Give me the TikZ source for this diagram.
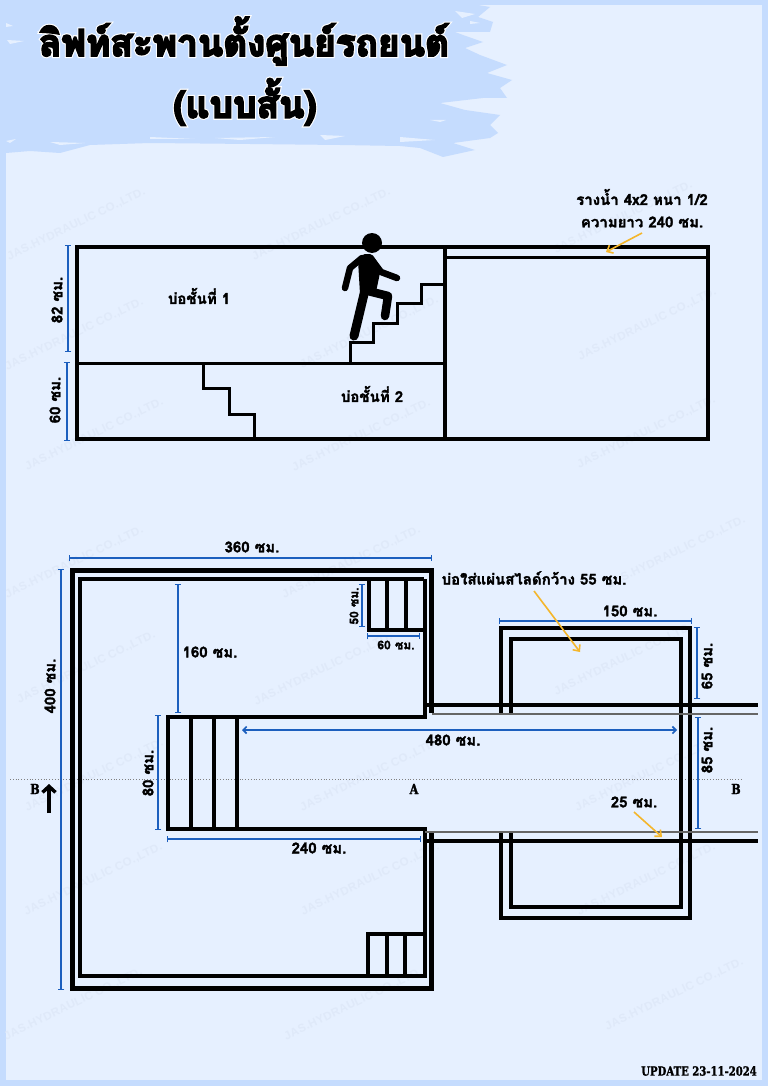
\documentclass[tikz,border=0pt]{standalone}
\usepackage{fontspec}
\usetikzlibrary{arrows.meta}
\newfontfamily\thaib[Script=Thai,FakeBold=2]{Loma Bold}
\newfontfamily\thaititle[Script=Thai,FakeBold=5]{Loma Bold}
\newfontfamily\thaihalo[Script=Thai,FakeBold=11]{Loma Bold}
\newfontfamily\slab[FakeStretch=0.8,FakeBold=1.5]{DejaVu Serif Bold}
\newfontfamily\wm[LetterSpace=3]{Liberation Sans Bold}
\definecolor{outerbg}{HTML}{C5DCFE}
\definecolor{innerbg}{HTML}{E6F0FF}
\definecolor{wmark}{HTML}{DFE9F9}
\definecolor{dimblue}{HTML}{1C5FBE}
\definecolor{orangearrow}{HTML}{F4B62C}
\definecolor{grayline}{HTML}{666666}
\tikzset{
  wall/.style={draw=black,line width=4pt,line cap=butt,line join=miter},
  thin wall/.style={draw=black,line width=3pt,line cap=butt,line join=miter},
  grayrail/.style={draw=grayline,line width=2.6pt},
  dimline/.style={draw=dimblue,line width=1.6pt,{Bar[width=6.5pt,line width=1.4pt]}-{Bar[width=6.5pt,line width=1.4pt]}},
  dimarrow/.style={draw=dimblue,line width=1.6pt,{Straight Barb[length=3.5pt,width=7pt]}-{Straight Barb[length=3.5pt,width=7pt]}},
  callout/.style={draw=orangearrow,line width=1.6pt,-{Straight Barb[length=5pt,width=9pt]}},
  label/.style={font=\thaib\fontsize{15}{17}\selectfont,inner sep=0pt,text=black},
  smalllabel/.style={font=\thaib\fontsize{12}{14}\selectfont,inner sep=0pt,text=black},
  slablabel/.style={font=\slab\fontsize{14}{16}\selectfont,inner sep=0pt,text=black},
  watermark/.style={font=\wm\fontsize{11.5}{13}\selectfont,text=wmark,rotate=25.8,anchor=south west,inner sep=0pt},
  limb/.style={draw=black,line cap=round,line join=round},
}
\begin{document}
\begin{tikzpicture}[x=1pt,y=-1pt]
\useasboundingbox (0,0) rectangle (768,1086);
% backgrounds
\fill[outerbg] (0,0) rectangle (768,1086);
\fill[innerbg] (6,5) rectangle (762,1080);
% brushed title band
\fill[outerbg] (0,0) -- (478,5) -- (490,7) -- (478,17) -- (493,22) -- (490,32) -- (455,32) -- (463,35) -- (483,42) -- (465,48) -- (480,55) -- (507,65) -- (487,73) -- (512,80) -- (500,88) -- (507,98) -- (483,98) -- (440,103) -- (465,110) -- (500,115) -- (490,125) -- (498,133) -- (490,138) -- (453,143) -- (475,150) -- (443,157) -- (420,148) -- (400,146) -- (340,145) -- (250,144) -- (150,143) -- (90,145) -- (60,153) -- (30,151) -- (6,153) -- (0,153) -- cycle;
\fill[innerbg] (470,21) -- (480,23) -- (470,24) -- cycle;
\fill[innerbg] (455,11) -- (475,14) -- (462,18) -- cycle;
\fill[innerbg] (483,52) -- (497,50) -- (490,53) -- cycle;
\fill[innerbg] (497,60) -- (516,57) -- (505,61) -- cycle;
\fill[innerbg] (430,120) -- (446,120) -- (440,122) -- cycle;
\fill[innerbg] (400,137) -- (435,140) -- (400,142) -- cycle;
\fill[innerbg] (150,137) -- (195,139) -- (150,139) -- cycle;
\fill[innerbg] (215,138) -- (275,137) -- (240,140) -- cycle;
\fill[innerbg] (320,135) -- (345,136) -- (325,140) -- cycle;
\fill[innerbg] (6,141) -- (16,139) -- (10,143) -- cycle;
\fill[innerbg] (50,142) -- (85,143) -- (60,145) -- cycle;
\fill[innerbg] (6,23) -- (13,26) -- (6,27) -- cycle;
\fill[innerbg] (7,40) -- (24,41) -- (10,44) -- cycle;
% watermarks
\foreach \wx/\wy in {10/262,255/262,557/255,8/372,303/370,581/362,28/472,295/473,580/470,8/600,285/600,610/590,20/705,257/707,557/697,28/813,303/813,578/813,27/917,304/917,580/917,7/1042,287/1042,608/1032}
  \node[watermark] at (\wx,\wy) {JAS.HYDRAULIC CO.,LTD.};
% title
\node[font=\thaihalo\fontsize{37}{44}\selectfont,text=white,inner sep=0pt] (titlehaloa) at (244,41) {ลิฟท์สะพานตั้งศูนย์รถยนต์};
\node[font=\thaihalo\fontsize{37}{44}\selectfont,text=white,inner sep=0pt] (titlehalob) at (245,102) {(แบบสั้น)};
\node[font=\thaititle\fontsize{37}{44}\selectfont,text=black,inner sep=0pt] (titlea) at (244,41) {ลิฟท์สะพานตั้งศูนย์รถยนต์};
\node[font=\thaititle\fontsize{37}{44}\selectfont,text=black,inner sep=0pt] (titleb) at (245,102) {(แบบสั้น)};
% side view
\draw[wall] (77,247) rectangle (708,439);
\draw[wall] (445,247) -- (445,439);
\draw[thin wall] (77,363) -- (445,363);
\draw[thin wall] (445,257) -- (708,257);
\draw[thin wall] (350,362) -- (350,342) -- (373,342) -- (373,323) -- (397,323) -- (397,303) -- (421,303) -- (421,284) -- (445,284);
\draw[thin wall] (203,363) -- (203,388) -- (229,388) -- (229,414) -- (254,414) -- (254,438);
% person
\fill[black] (372,243) circle (10);
\fill[black,rounded corners=2pt] (363,254) -- (372,254) -- (381,268) -- (376,292) -- (360,294) -- (358,260) -- cycle;
\draw[limb,line width=6.5pt] (362,258) -- (350,268) -- (345,288);
\draw[limb,line width=6.5pt] (372,260) -- (381,272) -- (397,278);
\draw[limb,line width=9pt] (365,290) -- (354,336);
\draw[limb,line width=8.5pt] (368,291) -- (388,296) -- (385,316);
% side view labels
\node[label] (pit1) at (199,296) {บ่อชั้นที่ 1};
\node[label] (pit2) at (372,394) {บ่อชั้นที่ 2};
\node[label] (gutter) at (642,197) {รางน้ำ 4x2 หนา 1/2};
\node[label] (gutterlen) at (642,222) {ความยาว 240 ซม.};
\coordinate (guttertip) at (606,252);
\coordinate (gutterfrom) at (642,233);
\draw[callout] (gutterfrom) -- (guttertip);
\draw[dimline] (68,245) -- (68,352);
\draw[dimline] (67,362) -- (67,441);
\node[label,rotate=90] (d82) at (57,300) {82 ซม.};
\node[label,rotate=90] (d60) at (55,400) {60 ซม.};
% plan: dotted section line
\draw[draw=gray,line width=.8pt,dotted] (10,779) -- (743,779);
% plan: outer wall
\draw[wall,line width=5pt] (431,713) -- (431,570) -- (72,570) -- (72,988) -- (431,988) -- (431,833);
% plan: inner wall
\draw[wall,line width=4.5pt] (424,579) -- (80,579) -- (80,976) -- (425,976) -- (425,829) -- (168,829) -- (168,717) -- (425,717) -- (425,579) ;
\draw[wall] (191,717) -- (191,829);
\draw[wall] (214,717) -- (214,829);
\draw[wall] (237,717) -- (237,829);
% plan: corner steps
\draw[thin wall,line width=3.5pt] (369,579) -- (369,630) -- (424,630);
\draw[thin wall,line width=3.5pt] (387,579) -- (387,630);
\draw[thin wall,line width=3.5pt] (406,579) -- (406,630);
\draw[thin wall,line width=3.5pt] (423,934) -- (368,934) -- (368,977);
\draw[thin wall,line width=3.5pt] (387,934) -- (387,977);
\draw[thin wall,line width=3.5pt] (405,934) -- (405,977);
% plan: right pit
\draw[wall] (501,714) -- (501,628) -- (690,628) -- (690,918) -- (501,918) -- (501,833);
\draw[wall] (511,714) -- (511,639) -- (681,639) -- (681,907) -- (511,907) -- (511,833);
% plan: rails
\draw[wall] (425,705) -- (758,705);
\draw[grayrail] (432,714) -- (758,714);
\draw[grayrail] (425,832) -- (758,832);
\draw[wall] (425,841) -- (758,841);
% plan: dimensions
\draw[dimline] (69,558) -- (432,558);
\node[label] (d360) at (252,547) {360 ซม.};
\draw[dimline] (61,569) -- (61,990);
\node[label,rotate=90] (d400) at (50,686) {400 ซม.};
\draw[dimline] (178,584) -- (178,713);
\node[label] (d160) at (210,652) {160 ซม.};
\draw[dimline] (158,715) -- (158,830);
\node[label,rotate=90] (d80) at (148,773) {80 ซม.};
\draw[dimline] (362,584) -- (362,627);
\node[smalllabel,rotate=90] (d50) at (354,606) {50 ซม.};
\draw[dimline] (367,636) -- (420,636);
\node[smalllabel] (d60b) at (396,645) {60 ซม.};
\draw[dimarrow] (242,730) -- (677,730);
\node[label] (d480) at (453,740) {480 ซม.};
\draw[dimline] (167,839) -- (421,839);
\node[label] (d240) at (319,848) {240 ซม.};
\draw[dimline] (499,621) -- (692,621);
\node[label] (d150) at (630,611) {150 ซม.};
\draw[dimline] (697,627) -- (697,699);
\node[label,rotate=90] (d65) at (707,666) {65 ซม.};
\draw[dimline] (698,717) -- (698,829);
\node[label,rotate=90] (d85) at (707,750) {85 ซม.};
% plan: callouts
\node[label] (slideslot) at (534,578) {บ่อใส่แผ่นสไลด์กว้าง 55 ซม.};
\coordinate (slidefrom) at (534,591);
\coordinate (slidetip) at (580,652);
\draw[callout] (slidefrom) -- (slidetip);
\node[label] (d25) at (634,802) {25 ซม.};
\coordinate (dfrom) at (634,812);
\coordinate (dtip) at (662,837);
\draw[callout] (dfrom) -- (dtip);
% section marks
\node[slablabel] (secA) at (414,789) {A};
\node[slablabel] (secBl) at (35,789) {B};
\node[slablabel] (secBr) at (736,789) {B};
\coordinate (upfrom) at (49,813);
\coordinate (upto) at (49,784);
\draw[draw=black,line width=3.5pt,-{Straight Barb[length=6pt,width=13pt]}] (upfrom) -- (upto);
\node[font=\slab\fontsize{12.6}{14}\selectfont,anchor=east,inner sep=0pt] (update) at (757,1071) {UPDATE 23-11-2024};
\end{tikzpicture}
\end{document}
